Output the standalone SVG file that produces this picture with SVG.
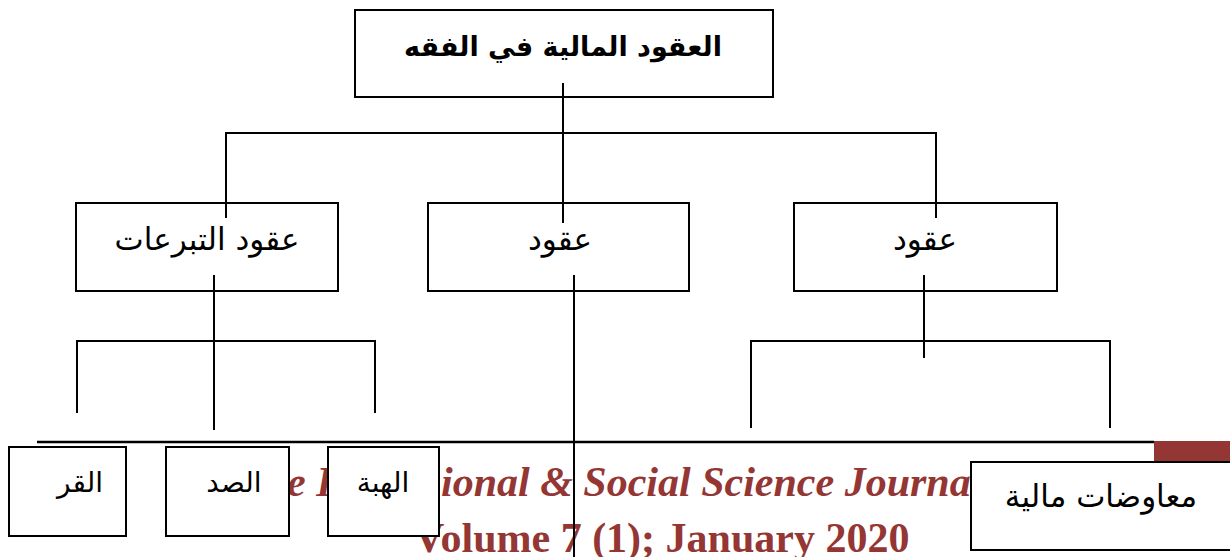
<svg xmlns="http://www.w3.org/2000/svg" width="1230" height="557" viewBox="0 0 1230 557">
<style>
.box{fill:#fff;stroke:#000;stroke-width:2}
.ar{font-family:"DejaVu Sans","Liberation Sans",sans-serif;font-size:31px;fill:#000;text-anchor:middle}
.sm{font-size:28px}
.b{font-weight:bold;font-size:27px}
.con{fill:none;stroke:#000;stroke-width:2}
.hdr{font-family:"Liberation Serif",serif;font-weight:bold;font-size:42px;fill:#943634}
</style>
<rect width="1230" height="557" fill="#fff"/>
<g id="header">
<text class="hdr" x="287" y="496" font-style="italic">e I</text>
<text class="hdr" x="441" y="496" font-style="italic">ional &amp; Social Science Journa</text>
<text class="hdr" x="414" y="552" font-size="42.5">Volume 7 (1); January 2020</text>
<line x1="37" y1="442" x2="1154" y2="442" stroke="#000" stroke-width="2.5"/>
<rect x="1154" y="441" width="76" height="20" fill="#943634"/>
</g>
<g id="n-root"><rect class="box" x="355" y="10" width="418" height="87"/><text class="ar b" x="563" y="56">العقود المالية في الفقه</text></g>
<g id="n-tabarru"><rect class="box" x="76" y="203" width="262" height="88"/><text class="ar" x="207" y="250">عقود التبرعات</text></g>
<g id="n-mid"><rect class="box" x="428" y="203" width="261" height="88"/><text class="ar" x="560" y="250">عقود</text></g>
<g id="n-right"><rect class="box" x="794" y="203" width="263" height="88"/><text class="ar" x="925" y="250">عقود</text></g>
<g id="n-qard"><rect class="box" x="9" y="447" width="117" height="89"/><text class="ar sm" x="80" y="492">القر</text></g>
<g id="n-sadaqa"><rect class="box" x="166" y="447" width="123" height="89"/><text class="ar sm" x="234" y="492">الصد</text></g>
<g id="n-hiba"><rect class="box" x="328" y="447" width="111" height="89"/><text class="ar sm" x="383" y="492">الهبة</text></g>
<g id="n-muawadat"><rect class="box" x="971" y="462" width="270" height="88"/><text class="ar" x="1101" y="507">معاوضات مالية</text></g>
<g id="connectors">
<path class="con" d="M563 83V223M226 218V133H936V218"/>
<path class="con" d="M214 275V430M77 413V341H375V413"/>
<path class="con" d="M574 275V557"/>
<path class="con" d="M924 275V358M751 428V341H1110V428"/>
</g>
</svg>
